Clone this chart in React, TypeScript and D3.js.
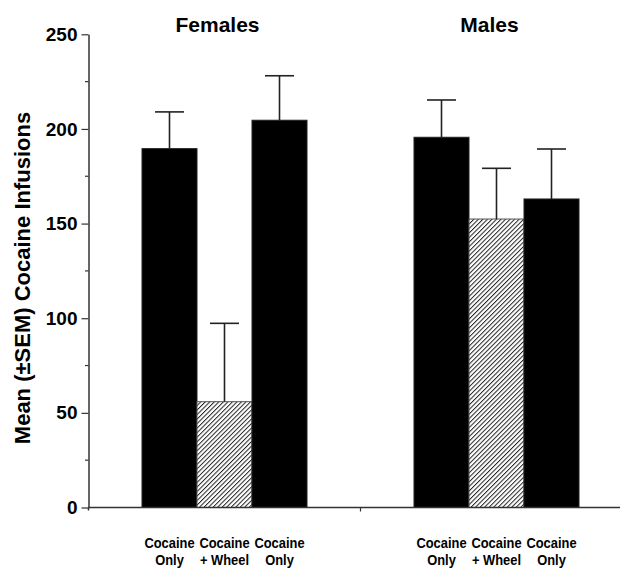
import React, { useEffect, useRef } from "react";
import * as d3 from "d3";

const groups = ["Females", "Males"];
const conditionLines = [
  ["Cocaine", "Only"],
  ["Cocaine", "+ Wheel"],
  ["Cocaine", "Only"],
];
const hatchedCondition = [false, true, false];
const femaleMeans = [189.6, 55.9, 204.6];
const femaleSem = [19.4, 41.4, 23.5];
const maleMeans = [195.6, 152.4, 163.0];
const maleSem = [19.7, 26.8, 26.4];
const yTicks = [0, 50, 100, 150, 200, 250];
const yMinorTicks = [25, 75, 125, 175, 225];

const FONT = "'Liberation Sans', Arial, Helvetica, sans-serif";

function App() {
  const ref = useRef<SVGSVGElement | null>(null);

  const width = 623;
  const height = 568;
  const margin = { top: 34.3, left: 88.5, bottom: 60.5 };
  const barWidth = 55;

  useEffect(() => {
    const svg = d3.select(ref.current);
    svg.selectAll("*").remove();

    const y = d3.scaleLinear().domain([0, 250]).range([height - margin.bottom, margin.top]);
    const x0 = d3.scaleBand().domain(groups).range([margin.left, margin.left + 544]).padding(0);
    const x1 = d3
      .scaleBand()
      .domain(["0", "1", "2"])
      .range([(x0.bandwidth() - 3 * barWidth) / 2, (x0.bandwidth() + 3 * barWidth) / 2])
      .padding(0);

    const defs = svg.append("defs");
    const pat = defs
      .append("pattern")
      .attr("id", "hatch")
      .attr("patternUnits", "userSpaceOnUse")
      .attr("width", 3.2)
      .attr("height", 3.2)
      .attr("patternTransform", "rotate(45)");
    pat.append("rect").attr("width", 3.2).attr("height", 3.2).attr("fill", "#fff");
    pat.append("line").attr("x1", 0).attr("y1", 0).attr("x2", 0).attr("y2", 3.2)
      .attr("stroke", "#222").attr("stroke-width", 2);

    const data = groups.flatMap((g, gi) => {
      const means = gi === 0 ? femaleMeans : maleMeans;
      const sems = gi === 0 ? femaleSem : maleSem;
      return means.map((m, i) => ({ group: g, idx: i, mean: m, sem: sems[i] }));
    });

    const bars = svg.append("g");
    bars
      .selectAll("rect")
      .data(data)
      .enter()
      .append("rect")
      .attr("x", (d) => (x0(d.group) as number) + (x1(String(d.idx)) as number))
      .attr("y", (d) => y(d.mean))
      .attr("width", x1.bandwidth())
      .attr("height", (d) => y(0) - y(d.mean))
      .attr("fill", (d) => (hatchedCondition[d.idx] ? "url(#hatch)" : "#000"))
      .attr("stroke", (d) => (hatchedCondition[d.idx] ? "#555" : "#222"))
      .attr("stroke-width", 1);

    // error bars
    const err = svg.append("g").attr("stroke", "#222").attr("stroke-width", 1.6);
    data.forEach((d) => {
      const cx = (x0(d.group) as number) + (x1(String(d.idx)) as number) + x1.bandwidth() / 2;
      err.append("line").attr("x1", cx).attr("x2", cx).attr("y1", y(d.mean)).attr("y2", y(d.mean + d.sem));
      err.append("line").attr("x1", cx - 14.5).attr("x2", cx + 14.5)
        .attr("y1", y(d.mean + d.sem)).attr("y2", y(d.mean + d.sem));
    });

    // y axis
    const yAxis = svg
      .append("g")
      .attr("transform", `translate(${margin.left},0)`)
      .call(d3.axisLeft(y).tickValues(yTicks).tickSize(7).tickSizeOuter(0).tickPadding(4));
    yAxis.select(".domain").attr("stroke", "#333").attr("stroke-width", 1.5);
    yAxis.selectAll(".tick line").attr("stroke", "#333").attr("stroke-width", 1.2);
    yAxis
      .selectAll(".tick text")
      .attr("font-family", FONT)
      .attr("font-weight", "bold")
      .attr("font-size", 19)
      .attr("fill", "#000");
    svg
      .append("g")
      .selectAll("line")
      .data(yMinorTicks)
      .enter()
      .append("line")
      .attr("x1", margin.left - 3.5)
      .attr("x2", margin.left)
      .attr("y1", (d) => y(d))
      .attr("y2", (d) => y(d))
      .attr("stroke", "#333")
      .attr("stroke-width", 1.2);
    // axis runs a little below the baseline
    svg.append("line")
      .attr("x1", margin.left).attr("x2", margin.left)
      .attr("y1", y(0)).attr("y2", y(0) + 3)
      .attr("stroke", "#333").attr("stroke-width", 1.5);

    // x baseline + group separator
    svg.append("line")
      .attr("x1", margin.left).attr("x2", 620)
      .attr("y1", y(0)).attr("y2", y(0))
      .attr("stroke", "#333").attr("stroke-width", 1.5);
    svg.append("line")
      .attr("x1", x0("Males") as number).attr("x2", x0("Males") as number)
      .attr("y1", y(0)).attr("y2", y(0) + 4)
      .attr("stroke", "#333").attr("stroke-width", 1.2);

    // category labels (condensed bold)
    data.forEach((d) => {
      const cx = (x0(d.group) as number) + (x1(String(d.idx)) as number) + x1.bandwidth() / 2;
      const t = svg.append("text")
        .attr("transform", `translate(${cx},0) scale(0.86,1)`)
        .attr("text-anchor", "middle")
        .attr("font-family", FONT)
        .attr("font-weight", "bold")
        .attr("font-size", 15)
        .attr("fill", "#000");
      conditionLines[d.idx].forEach((line, li) => {
        t.append("tspan").attr("x", 0).attr("y", 548 + li * 17).text(line);
      });
    });

    // group titles
    svg
      .selectAll(".title")
      .data(groups)
      .enter()
      .append("text")
      .attr("x", (g) => (x0(g) as number) + x0.bandwidth() / 2 - 7)
      .attr("y", 31.5)
      .attr("text-anchor", "middle")
      .attr("font-family", FONT)
      .attr("font-weight", "bold")
      .attr("font-size", 21)
      .attr("fill", "#000")
      .text((g) => g);

    // y axis label
    svg
      .append("text")
      .attr("transform", `translate(29.5, 278) rotate(-90)`)
      .attr("text-anchor", "middle")
      .attr("font-family", FONT)
      .attr("font-weight", "bold")
      .attr("font-size", 22)
      .attr("fill", "#000")
      .text("Mean (±SEM) Cocaine Infusions");
  }, []);

  return (
    <svg
      ref={ref}
      width={width}
      height={height}
      style={{ position: "absolute", left: 0, top: 0, background: "#fff" }}
    />
  );
}

export default App;
